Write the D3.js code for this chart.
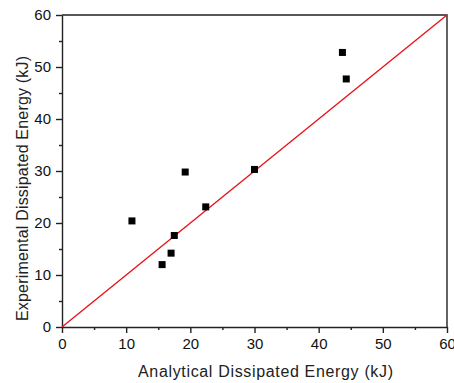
<!DOCTYPE html>
<html>
<head>
<meta charset="utf-8">
<script src="https://cdn.jsdelivr.net/npm/d3@7"></script>
<style>
  body { margin: 0; background: #fff; }
  svg { display: block; font-family: "Liberation Sans", Arial, sans-serif; }
</style>
</head>
<body>
<svg></svg>
<script>
const analytical = [10.9, 19.2, 30.0, 22.4, 17.5, 17.0, 15.6, 43.7, 44.3];
const experimental = [20.4, 29.8, 30.3, 23.1, 17.6, 14.2, 12.0, 52.8, 47.7];
const majorTicks = [0, 10, 20, 30, 40, 50, 60];
const minorTicks = [5, 15, 25, 35, 45, 55];
const diagonal = [0, 60];

const width = 454, height = 383;
const margin = {top: 15, right: 7, bottom: 56, left: 62};

const svg = d3.select('svg')
  .attr('width', width)
  .attr('height', height);

const x = d3.scaleLinear().domain([0, 60]).range([margin.left, width - margin.right]);
const y = d3.scaleLinear().domain([0, 60]).range([height - margin.bottom, margin.top]);

// frame (top and right)
svg.append('path')
  .attr('d', `M${x(0)},${y(60)}H${x(60)}V${y(0)}`)
  .attr('fill', 'none')
  .attr('stroke', '#222')
  .attr('stroke-width', 1.4);

// minor ticks
svg.append('g')
  .attr('transform', `translate(0,${y(0)})`)
  .call(d3.axisBottom(x).tickValues(minorTicks).tickSize(3).tickFormat(''))
  .call(g => g.select('.domain').remove());
svg.append('g')
  .attr('transform', `translate(${x(0)},0)`)
  .call(d3.axisLeft(y).tickValues(minorTicks).tickSize(3).tickFormat(''))
  .call(g => g.select('.domain').remove());

svg.append('g')
  .attr('transform', `translate(0,${y(0)})`)
  .call(d3.axisBottom(x).tickValues(majorTicks).tickSize(6).tickSizeOuter(0).tickPadding(5));
svg.append('g')
  .attr('transform', `translate(${x(0)},0)`)
  .call(d3.axisLeft(y).tickValues(majorTicks).tickSize(6).tickSizeOuter(0).tickPadding(5));

svg.selectAll('.tick line, .domain').attr('stroke', '#222').attr('stroke-width', 1.4);
svg.selectAll('.tick text')
  .attr('fill', '#111')
  .style('font-size', '15px')
  .style('font-family', '"Liberation Sans", Arial, sans-serif');

// y = x reference line
svg.append('line')
  .attr('x1', x(diagonal[0])).attr('y1', y(diagonal[0]))
  .attr('x2', x(diagonal[1])).attr('y2', y(diagonal[1]))
  .attr('stroke', '#e8141c')
  .attr('stroke-width', 1.4);

svg.append('g').selectAll('rect')
  .data(analytical)
  .enter().append('rect')
    .attr('x', (d, i) => x(d) - 3.5)
    .attr('y', (d, i) => y(experimental[i]) - 3.5)
    .attr('width', 7)
    .attr('height', 7)
    .attr('fill', '#000');

svg.append('text')
  .attr('x', 138)
  .attr('y', 377)
  .attr('textLength', 255)
  .attr('lengthAdjust', 'spacing')
  .style('font-size', '16px')
  .attr('fill', '#222')
  .text('Analytical Dissipated Energy (kJ)');

svg.append('text')
  .attr('transform', 'translate(27.5,321) rotate(-90)')
  .attr('textLength', 265)
  .attr('lengthAdjust', 'spacing')
  .style('font-size', '16px')
  .attr('fill', '#222')
  .text('Experimental Dissipated Energy (kJ)');
</script>
</body>
</html>
